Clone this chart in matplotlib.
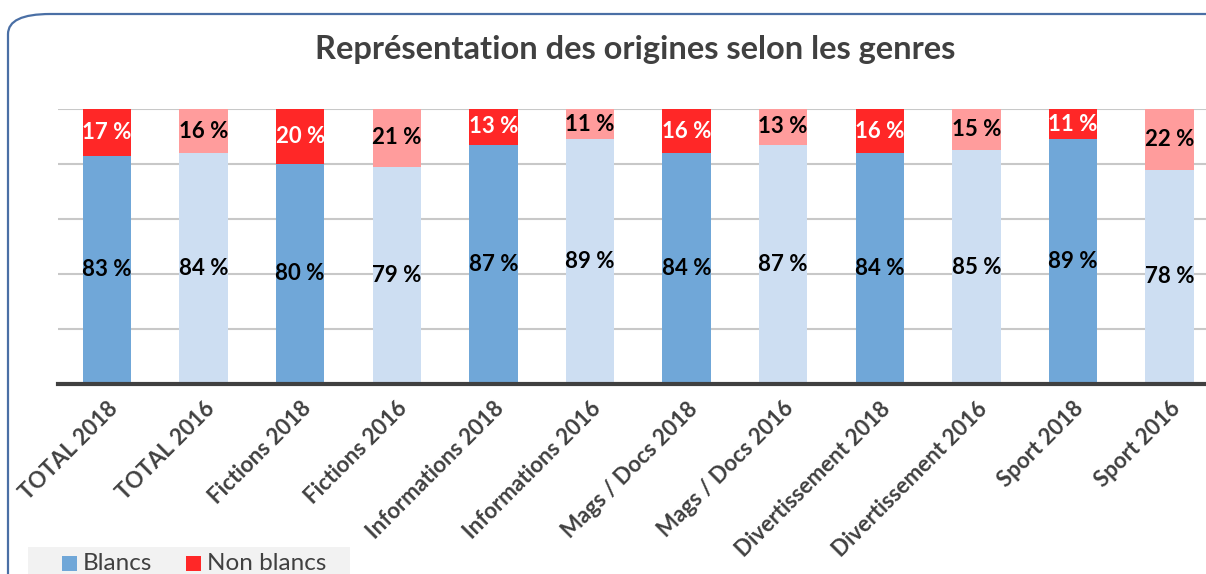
import matplotlib.pyplot as plt
from matplotlib.patches import FancyBboxPatch, Rectangle
import numpy as np

categories = ["TOTAL 2018", "TOTAL 2016", "Fictions 2018", "Fictions 2016",
              "Informations 2018", "Informations 2016", "Mags / Docs 2018",
              "Mags / Docs 2016", "Divertissement 2018", "Divertissement 2016",
              "Sport 2018", "Sport 2016"]
blancs = [83, 84, 80, 79, 87, 89, 84, 87, 84, 85, 89, 78]
non_blancs = [17, 16, 20, 21, 13, 11, 16, 13, 16, 15, 11, 22]

FONT = "Lato"
dark = "#404040"
blue_18, blue_16 = "#70A7D8", "#CDDEF2"
red_18, red_16 = "#FF2727", "#FF9C9C"

fig = plt.figure(figsize=(12.06, 5.74), dpi=100)

# rounded frame, clipped by the picture on the right and bottom
frame = FancyBboxPatch((8 / 1206, -0.2), 1.2, 1 - 14 / 574 + 0.2,
                       boxstyle="round,pad=0,rounding_size=0.035",
                       transform=fig.transFigure, fill=False,
                       edgecolor="#4A6FA5", linewidth=1.6, zorder=0)
fig.patches.append(frame)

ax = fig.add_axes([58 / 1206, (574 - 384) / 574, (1206 - 58) / 1206, 275 / 574])
x = np.arange(len(categories))
c_bl = [blue_18 if i % 2 == 0 else blue_16 for i in x]
c_nb = [red_18 if i % 2 == 0 else red_16 for i in x]

ax.bar(x, blancs, width=0.5, color=c_bl, zorder=2)
ax.bar(x, non_blancs, width=0.5, bottom=blancs, color=c_nb, zorder=2)

for i in x:
    ax.text(i, blancs[i] / 2, f"{blancs[i]} %", ha="center", va="center",
            fontsize=16, fontweight="bold", family=FONT, color="black", zorder=3)
    ax.text(i, blancs[i] + non_blancs[i] / 2, f"{non_blancs[i]} %", ha="center",
            va="center", fontsize=16, fontweight="bold", family=FONT,
            color="white" if i % 2 == 0 else "black", zorder=3)

ax.set_xlim(-0.507, 11.377)
ax.set_ylim(0, 100)
ax.set_yticks([20, 40, 60, 80, 100])
ax.yaxis.grid(True, color="#C8C8C8", linewidth=1.5, zorder=1)
ax.tick_params(axis="y", left=False, labelleft=False)
ax.tick_params(axis="x", length=0, pad=10)
for s in ["top", "right", "left"]:
    ax.spines[s].set_visible(False)
ax.spines["bottom"].set_color(dark)
ax.spines["bottom"].set_linewidth(3)
ax.spines["bottom"].set_zorder(4)

ax.set_xticks(x)
ax.set_xticklabels(categories, rotation=45, ha="right", rotation_mode="anchor",
                   fontsize=16, fontweight="bold", family=FONT, color=dark)

fig.text(635 / 1206, 1 - 49 / 574, "Représentation des origines selon les genres",
         ha="center", va="center", fontsize=23.5, fontweight="bold", family=FONT,
         color=dark)

# legend strip at the bottom left
fig.patches.append(Rectangle((28 / 1206, 0), 322 / 1206, 27 / 574,
                             transform=fig.transFigure, facecolor="#F2F2F2",
                             edgecolor="none", zorder=1))
fig.patches.append(Rectangle((62 / 1206, 3 / 574), 15 / 1206, 15 / 574,
                             transform=fig.transFigure, facecolor=blue_18,
                             edgecolor="none", zorder=2))
fig.patches.append(Rectangle((186 / 1206, 3 / 574), 15 / 1206, 15 / 574,
                             transform=fig.transFigure, facecolor=red_18,
                             edgecolor="none", zorder=2))
fig.text(83 / 1206, 11 / 574, "Blancs", ha="left", va="center", fontsize=17.5,
         family=FONT, color=dark)
fig.text(207 / 1206, 11 / 574, "Non blancs", ha="left", va="center", fontsize=17.5,
         family=FONT, color=dark)

fig.savefig("out.png", dpi=100)
